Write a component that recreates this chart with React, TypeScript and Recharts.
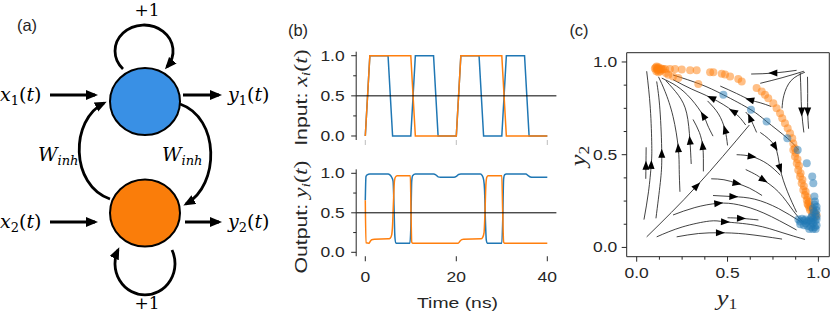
import React from 'react';
import {
  LineChart, Line, XAxis, YAxis, ReferenceLine, ComposedChart, Scatter, ReferenceArea,
} from 'recharts';

const BLUE = '#1f77b4';
const ORANGE = '#ff7f0e';
const INK = '#262626';
const SANS = '"Liberation Sans", Arial, sans-serif';
const MATH = '"Liberation Serif", serif';
const DIAG = '"DejaVu Serif", serif';
const SX = 1.25; // figure text is wider than the stock font

// (b) inputs, one sample per ns
const inputTime = [0, 1, 2, 3, 4, 5, 6, 7, 8, 9, 10, 11, 12, 13, 14, 15, 16, 17, 18, 19, 20, 21, 22, 23, 24, 25, 26, 27, 28, 29, 30, 31, 32, 33, 34, 35, 36, 37, 38, 39, 40];
const inputX1 = [0, 1, 1, 1, 1, 1, 0, 0, 0, 0, 0, 1, 1, 1, 1, 1, 0, 0, 0, 0, 0, 1, 1, 1, 1, 1, 0, 0, 0, 0, 0, 1, 1, 1, 1, 1, 0, 0, 0, 0, 0];
const inputX2 = [0, 1, 1, 1, 1, 1, 1, 1, 1, 1, 1, 0, 0, 0, 0, 0, 0, 0, 0, 0, 0, 1, 1, 1, 1, 1, 1, 1, 1, 1, 1, 0, 0, 0, 0, 0, 0, 0, 0, 0, 0];

// (b) outputs
const outTime1 = [0, 0.15, 0.4, 1, 3, 5, 5.4, 5.8, 6.1, 6.3, 6.5, 6.7, 7, 9.8, 10, 10.2, 10.4, 11, 15, 15.5, 16, 16.5, 19.5, 20, 20.5, 21, 25.3, 25.7, 26, 26.2, 26.4, 26.6, 26.8, 30, 30.2, 30.4, 30.6, 31, 35.3, 35.8, 36.3, 36.6, 40];
const outY1 = [0.66, 0.96, 0.98, 0.99, 0.99, 0.99, 0.98, 0.95, 0.9, 0.6, 0.2, 0.12, 0.115, 0.115, 0.3, 0.9, 0.97, 0.99, 0.99, 0.98, 0.955, 0.95, 0.95, 0.96, 0.985, 0.99, 0.99, 0.97, 0.92, 0.8, 0.4, 0.15, 0.115, 0.115, 0.4, 0.93, 0.98, 0.99, 0.99, 0.97, 0.952, 0.95, 0.95];
const outTime2 = [0, 0.15, 0.8, 1.1, 1.4, 2, 5, 5.5, 5.8, 6, 6.2, 6.4, 6.6, 7, 9.9, 10.05, 10.2, 10.4, 20.4, 20.8, 21.2, 21.6, 25.4, 25.8, 26.1, 26.3, 26.5, 26.7, 27, 30, 30.2, 30.4, 30.6, 40];
const outY2 = [0.66, 0.12, 0.115, 0.14, 0.16, 0.165, 0.17, 0.18, 0.22, 0.35, 0.65, 0.9, 0.95, 0.97, 0.97, 0.5, 0.13, 0.115, 0.115, 0.14, 0.16, 0.165, 0.17, 0.19, 0.25, 0.5, 0.85, 0.95, 0.97, 0.97, 0.5, 0.13, 0.115, 0.115];

const timeTicks = [0, 20, 40];
const unitTicks = [0, 0.25, 0.5, 0.75, 1];
const phaseTicks = [0, 0.125, 0.25, 0.375, 0.5, 0.625, 0.75, 0.875, 1];
const majorTicks = [0, 0.5, 1];

// (c) trajectory samples (y1, y2)
const orangePts = [
  [0.1, 0.965], [0.105, 0.97], [0.11, 0.975], [0.112, 0.96], [0.115, 0.968], [0.12, 0.972], [0.118, 0.955],
  [0.125, 0.962], [0.13, 0.95], [0.135, 0.965], [0.14, 0.958], [0.108, 0.95], [0.12, 0.945], [0.145, 0.962],
  [0.156, 0.962], [0.183, 0.962], [0.211, 0.962], [0.248, 0.959], [0.294, 0.955], [0.33, 0.955], [0.404, 0.944],
  [0.422, 0.944], [0.468, 0.937], [0.486, 0.932], [0.514, 0.922], [0.559, 0.908], [0.578, 0.895], [0.66, 0.859],
  [0.688, 0.841], [0.706, 0.823], [0.724, 0.805], [0.752, 0.778], [0.77, 0.751], [0.789, 0.724], [0.801, 0.697],
  [0.816, 0.67], [0.831, 0.643], [0.844, 0.616], [0.856, 0.589], [0.862, 0.56], [0.871, 0.535], [0.862, 0.526],
  [0.871, 0.49], [0.881, 0.454], [0.889, 0.418], [0.899, 0.382], [0.908, 0.346], [0.917, 0.31], [0.926, 0.283],
  [0.936, 0.256], [0.944, 0.229], [0.954, 0.202], [0.966, 0.184], [0.981, 0.165], [0.99, 0.175],
  [0.875, 0.51], [0.885, 0.475], [0.893, 0.44], [0.902, 0.4], [0.912, 0.365], [0.92, 0.33], [0.93, 0.3],
  [0.94, 0.27], [0.948, 0.245], [0.958, 0.22], [0.97, 0.2], [0.98, 0.19], [0.95, 0.215], [0.94, 0.235],
  [0.161, 0.941], [0.174, 0.931], [0.2, 0.922], [0.229, 0.913], [0.339, 0.881],
];
const bluePts = [
  [0.477, 0.823], [0.629, 0.742], [0.715, 0.679], [0.829, 0.589], [0.886, 0.526], [0.936, 0.454], [0.966, 0.382],
  [0.972, 0.346], [0.978, 0.274], [0.981, 0.247], [0.99, 0.22],
  [0.89, 0.15], [0.9, 0.14], [0.91, 0.155], [0.92, 0.145], [0.93, 0.15], [0.94, 0.14], [0.95, 0.145], [0.96, 0.14],
  [0.97, 0.15], [0.98, 0.14], [0.99, 0.15], [0.9, 0.125], [0.92, 0.12], [0.94, 0.115], [0.96, 0.11], [0.98, 0.11],
  [0.99, 0.12], [0.95, 0.1], [0.97, 0.1], [0.985, 0.1], [0.93, 0.13], [0.97, 0.13], [0.965, 0.17], [0.975, 0.19],
  [0.985, 0.18], [0.97, 0.21], [0.98, 0.23], [0.96, 0.16], [0.99, 0.165], [0.99, 0.2],
];

// (c) streamlines, listed in flow direction
const streamlines = [
  [[0.05, 0.37], [0.051, 0.45], [0.052, 0.54]],
  [[0.04, 0.15], [0.065, 0.3], [0.08, 0.445], [0.083, 0.55], [0.075, 0.75], [0.055, 0.95]],
  [[0.106, 0.157], [0.13, 0.35], [0.138, 0.505], [0.128, 0.742], [0.11, 0.895]],
  [[0.238, 0.3], [0.234, 0.42], [0.229, 0.535], [0.2, 0.706], [0.156, 0.841], [0.12, 0.92]],
  [[0.3, 0.45], [0.293, 0.576], [0.275, 0.724], [0.23, 0.82], [0.16, 0.9]],
  [[0.367, 0.41], [0.367, 0.48], [0.363, 0.548], [0.345, 0.62], [0.31, 0.69]],
  [[0.42, 0.6], [0.39, 0.66], [0.367, 0.71], [0.3, 0.8], [0.22, 0.87], [0.138, 0.913]],
  [[0.5, 0.55], [0.486, 0.634], [0.45, 0.72], [0.39, 0.79]],
  [[0.6, 0.66], [0.532, 0.733], [0.413, 0.805], [0.3, 0.855], [0.2, 0.905]],
  [[0.89, 0.526], [0.829, 0.589], [0.715, 0.679], [0.629, 0.742], [0.477, 0.823], [0.35, 0.88], [0.2, 0.93]],
  [[0.66, 0.62], [0.624, 0.697], [0.6, 0.73]],
  [[0.74, 0.76], [0.68, 0.78], [0.624, 0.796], [0.55, 0.83], [0.46, 0.87]],
  [[0.9, 0.94], [0.904, 0.84], [0.908, 0.733], [0.92, 0.62]],
  [[0.94, 0.92], [0.941, 0.83], [0.941, 0.733], [0.946, 0.64]],
  [[0.88, 0.955], [0.752, 0.94], [0.63, 0.935]],
  [[0.926, 0.945], [0.85, 0.9], [0.81, 0.82], [0.8, 0.75]],
  [[0.92, 0.95], [0.8, 0.915], [0.68, 0.885]],
  [[0.055, 0.057], [0.33, 0.331], [0.62, 0.66]],
  [[0.22, 0.057], [0.34, 0.075], [0.458, 0.079], [0.6, 0.072], [0.8, 0.045]],
  [[0.11, 0.057], [0.25, 0.11], [0.4, 0.142], [0.486, 0.138], [0.65, 0.12], [0.8, 0.08], [0.926, 0.043]],
  [[0.5, 0.16], [0.574, 0.157], [0.67, 0.148]],
  [[0.2, 0.175], [0.32, 0.215], [0.449, 0.238], [0.56, 0.23], [0.7, 0.185], [0.88, 0.094]],
  [[0.42, 0.28], [0.532, 0.274], [0.65, 0.26], [0.78, 0.21], [0.9, 0.14]],
  [[0.41, 0.37], [0.48, 0.365], [0.55, 0.346], [0.62, 0.32], [0.69, 0.28]],
  [[0.55, 0.5], [0.633, 0.49], [0.72, 0.45], [0.79, 0.39]],
  [[0.6, 0.42], [0.66, 0.39], [0.697, 0.364], [0.78, 0.3], [0.86, 0.2], [0.913, 0.138]],
  [[0.68, 0.62], [0.761, 0.544], [0.789, 0.427], [0.83, 0.3], [0.88, 0.19]],
];

// (c) arrow heads: x, y, direction dx, dy
const arrows = [
  [0.051, 0.44, 0, 1], [0.08, 0.445, 0.05, 1], [0.138, 0.505, 0, 1], [0.229, 0.535, -0.05, 1],
  [0.293, 0.576, -0.1, 1], [0.363, 0.548, -0.1, 1], [0.367, 0.71, -0.6, 1], [0.486, 0.634, -0.3, 1],
  [0.413, 0.805, -1, 0.45], [0.532, 0.733, -1, 0.6], [0.624, 0.697, -0.4, 1], [0.624, 0.796, -1, 0.25],
  [0.752, 0.94, -1, 0], [0.908, 0.733, 0, -1], [0.941, 0.733, 0, -1], [0.761, 0.544, 0.6, -1],
  [0.789, 0.427, 0.35, -1], [0.697, 0.364, 1, -0.6], [0.633, 0.49, 1, -0.15], [0.55, 0.346, 1, -0.2],
  [0.532, 0.274, 1, -0.05], [0.574, 0.157, 1, -0.03], [0.449, 0.238, 1, 0.1], [0.486, 0.138, 1, -0.05],
  [0.458, 0.079, 1, 0], [0.33, 0.331, 1, 1],
];

const zipT = (ts: number[], vs: number[]) => ts.map((t, i) => ({ t, v: vs[i] }));
const toXY = (pts: number[][]) => pts.map(([x, y]) => ({ x, y }));

const isMajor = (v: number) => majorTicks.some((m) => Math.abs(m - v) < 1e-9);

const yTick = (gap: number) => (props: any) => {
  const { x, y, payload } = props;
  const v = payload.value as number;
  const big = isMajor(v);
  return (
    <g>
      <line x1={x} x2={x - (big ? 5 : 3)} y1={y} y2={y} stroke={INK} strokeWidth={1} />
      {big && (
        <text transform={`translate(${x - gap},${y + 5}) scale(${SX},1)`} textAnchor="end"
          fontFamily={SANS} fontSize={14} fill={INK}>{v.toFixed(1)}</text>
      )}
    </g>
  );
};

const xTick = (dy: number, fmt: ((v: number) => string) | null, color: string) => (props: any) => {
  const { x, y, payload } = props;
  const v = payload.value as number;
  const big = fmt ? isMajor(v) || v === 20 || v === 40 : true;
  return (
    <g>
      <line x1={x} x2={x} y1={y} y2={y + (big ? 5 : 3)} stroke={color} strokeWidth={1} />
      {fmt && big && (
        <text transform={`translate(${x},${y + dy}) scale(${SX},1)`} textAnchor="middle"
          fontFamily={SANS} fontSize={14} fill={INK}>{fmt(v)}</text>
      )}
    </g>
  );
};

const Arrow = (p: any) => {
  const { cx, cy, payload } = p;
  const ang = (Math.atan2(-payload.dy, payload.dx) * 180) / Math.PI;
  return <polygon points="5,0 -4,-3.5 -4,3.5" transform={`translate(${cx},${cy}) rotate(${ang})`} fill="#000" />;
};

const dot = (color: string) => (p: any) => (
  <circle cx={p.cx} cy={p.cy} r={4} fill={color} fillOpacity={0.5} />
);

const Diagram = () => (
  <g>
    <defs>
      <marker id="head" markerUnits="userSpaceOnUse" markerWidth={13} markerHeight={11} refX={9} refY={5} orient="auto">
        <path d="M0,0 L12,5 L0,10 z" fill="#000" />
      </marker>
    </defs>
    <g fill="none" stroke="#000" strokeWidth={2.8}>
      <path d="M 123 68.9 A 29 26 0 1 1 166.9 67" markerEnd="url(#head)" />
      <path d="M 172 250 A 30 31.3 0 1 1 118 250" markerEnd="url(#head)" />
      <path d="M 110 199 C 70 185, 70 120, 104 103" markerEnd="url(#head)" />
      <path d="M 180 104 C 220 118, 220 185, 186 204" markerEnd="url(#head)" />
      <path d="M 50 95 L 95 95" markerEnd="url(#head)" />
      <path d="M 183 95 L 219 95" markerEnd="url(#head)" />
      <path d="M 50 222 L 95 222" markerEnd="url(#head)" />
      <path d="M 185 222 L 219 222" markerEnd="url(#head)" />
    </g>
    <ellipse cx={145} cy={101.5} rx={35} ry={33.5} fill="#3990e5" stroke="#000" strokeWidth={2} />
    <ellipse cx={145} cy={213} rx={35} ry={33.5} fill="#fa7d0a" stroke="#000" strokeWidth={2} />
    <g fontFamily={DIAG} fontSize={19} fill="#000">
      <text x={0} y={101}><tspan fontStyle="italic">x</tspan><tspan fontSize={13} dy={4}>1</tspan><tspan dy={-4}>(</tspan><tspan fontStyle="italic">t</tspan>)</text>
      <text x={228} y={101}><tspan fontStyle="italic">y</tspan><tspan fontSize={13} dy={4}>1</tspan><tspan dy={-4}>(</tspan><tspan fontStyle="italic">t</tspan>)</text>
      <text x={0} y={228}><tspan fontStyle="italic">x</tspan><tspan fontSize={13} dy={4}>2</tspan><tspan dy={-4}>(</tspan><tspan fontStyle="italic">t</tspan>)</text>
      <text x={228} y={228}><tspan fontStyle="italic">y</tspan><tspan fontSize={13} dy={4}>2</tspan><tspan dy={-4}>(</tspan><tspan fontStyle="italic">t</tspan>)</text>
      <text x={38} y={161}><tspan fontStyle="italic">W</tspan><tspan fontSize={13} fontStyle="italic" dy={4}>inh</tspan></text>
      <text x={162} y={161}><tspan fontStyle="italic">W</tspan><tspan fontSize={13} fontStyle="italic" dy={4}>inh</tspan></text>
      <text x={147} y={16} fontSize={17} textAnchor="middle">+1</text>
      <text x={147} y={309} fontSize={17} textAnchor="middle">+1</text>
    </g>
  </g>
);

const Labels = () => (
  <g fill={INK}>
    <text x={27} y={31} textAnchor="middle" fontFamily={SANS} fontSize={16.5}>(a)</text>
    <text x={298} y={36} textAnchor="middle" fontFamily={SANS} fontSize={16.5}>(b)</text>
    <text x={579} y={36} textAnchor="middle" fontFamily={SANS} fontSize={16.5}>(c)</text>
    <text transform={`translate(307,97.5) rotate(-90) scale(${SX},1)`} textAnchor="middle" fontSize={17}>
      <tspan fontFamily={SANS}>{'Input: '}</tspan>
      <tspan fontFamily={MATH} fontStyle="italic" fontSize={19}>x</tspan>
      <tspan fontFamily={MATH} fontStyle="italic" fontSize={13} dy={3}>i</tspan>
      <tspan fontFamily={MATH} fontSize={19} dy={-3}>(</tspan>
      <tspan fontFamily={MATH} fontStyle="italic" fontSize={19}>t</tspan>
      <tspan fontFamily={MATH} fontSize={19}>)</tspan>
    </text>
    <text transform={`translate(307,217) rotate(-90) scale(${SX},1)`} textAnchor="middle" fontSize={17}>
      <tspan fontFamily={SANS}>{'Output: '}</tspan>
      <tspan fontFamily={MATH} fontStyle="italic" fontSize={19}>y</tspan>
      <tspan fontFamily={MATH} fontStyle="italic" fontSize={13} dy={3}>i</tspan>
      <tspan fontFamily={MATH} fontSize={19} dy={-3}>(</tspan>
      <tspan fontFamily={MATH} fontStyle="italic" fontSize={19}>t</tspan>
      <tspan fontFamily={MATH} fontSize={19}>)</tspan>
    </text>
    <text transform={`translate(457.5,308.3) scale(${SX},1)`} textAnchor="middle" fontFamily={SANS} fontSize={15.5}>Time (ns)</text>
    <text transform={`translate(585,156) rotate(-90) scale(${SX},1)`} textAnchor="middle" fontFamily={MATH} fontSize={21}>
      <tspan fontStyle="italic">y</tspan><tspan fontSize={14} dy={4}>2</tspan>
    </text>
    <text transform={`translate(727,305) scale(${SX},1)`} textAnchor="middle" fontFamily={MATH} fontSize={21}>
      <tspan fontStyle="italic">y</tspan><tspan fontSize={14} dy={4}>1</tspan>
    </text>
  </g>
);

export default function App() {
  return (
    <div style={{ position: 'absolute', left: 0, top: 0, width: 830, height: 317, background: '#fff' }}>
      <div style={{ position: 'absolute', left: 290, top: 40 }}>
        <LineChart width={280} height={115} margin={{ top: 11.7, right: 13.6, bottom: 5, left: 6.2 }}>
          <XAxis type="number" dataKey="t" domain={[-2, 42]} ticks={timeTicks} allowDataOverflow interval={0}
            axisLine={false} tickLine={false} tickSize={0} tickMargin={0} height={10}
            tick={xTick(0, null, '#bdbdbd')} />
          <YAxis type="number" domain={[-0.05, 1.05]} ticks={unitTicks} allowDataOverflow interval={0}
            axisLine={{ stroke: INK }} tickLine={false} tickSize={0} tickMargin={0} width={60}
            tick={yTick(11.5)} />
          <Line data={zipT(inputTime, inputX1)} dataKey="v" type="linear" stroke={BLUE} strokeWidth={1.5} dot={false} isAnimationActive={false} />
          <Line data={zipT(inputTime, inputX2)} dataKey="v" type="linear" stroke={ORANGE} strokeWidth={1.5} dot={false} isAnimationActive={false} />
          <ReferenceLine y={0.5} stroke="#000" strokeWidth={1} />
        </LineChart>
      </div>
      <div style={{ position: 'absolute', left: 290, top: 160 }}>
        <LineChart width={280} height={157} margin={{ top: 9.35, right: 13.6, bottom: 30.75, left: 6.2 }}>
          <XAxis type="number" dataKey="t" domain={[-2, 42]} ticks={timeTicks} allowDataOverflow interval={0}
            axisLine={false} tickLine={false} tickSize={0} tickMargin={0} height={30}
            tick={xTick(25.4, (v) => String(v), INK)} />
          <YAxis type="number" domain={[-0.05, 1.05]} ticks={unitTicks} allowDataOverflow interval={0}
            axisLine={{ stroke: INK }} tickLine={false} tickSize={0} tickMargin={0} width={60}
            tick={yTick(11.5)} />
          <Line data={zipT(outTime1, outY1)} dataKey="v" type="monotone" stroke={BLUE} strokeWidth={1.5} dot={false} isAnimationActive={false} />
          <Line data={zipT(outTime2, outY2)} dataKey="v" type="monotone" stroke={ORANGE} strokeWidth={1.5} dot={false} isAnimationActive={false} />
          <ReferenceLine y={0.5} stroke="#000" strokeWidth={1} />
        </LineChart>
      </div>
      <div style={{ position: 'absolute', left: 560, top: 40 }}>
        <ComposedChart width={270} height={277} margin={{ top: 12.7, right: 0.7, bottom: 30.3, left: 6.7 }}>
          <XAxis type="number" dataKey="x" domain={[-0.055, 1.06]} ticks={phaseTicks} allowDataOverflow interval={0}
            axisLine={false} tickLine={false} tickSize={0} tickMargin={0} height={30}
            tick={xTick(21.6, (v) => v.toFixed(1), INK)} />
          <YAxis type="number" dataKey="y" domain={[-0.05, 1.05]} ticks={phaseTicks} allowDataOverflow interval={0}
            axisLine={false} tickLine={false} tickSize={0} tickMargin={0} width={60}
            tick={yTick(9.4)} />
          {streamlines.map((s, i) => (
            <Line key={i} data={toXY(s)} dataKey="y" type="natural" stroke="#111" strokeWidth={0.8}
              dot={false} isAnimationActive={false} />
          ))}
          <Scatter data={arrows.map(([x, y, dx, dy]) => ({ x, y, dx, dy }))} shape={Arrow} isAnimationActive={false} />
          <Scatter data={toXY(orangePts)} shape={dot(ORANGE)} isAnimationActive={false} />
          <Scatter data={toXY(bluePts)} shape={dot(BLUE)} isAnimationActive={false} />
          <ReferenceArea x1={-0.055} x2={1.06} y1={-0.05} y2={1.05} fill="none" stroke={INK} strokeWidth={1} ifOverflow="visible" />
        </ComposedChart>
      </div>
      <svg width={830} height={317} style={{ position: 'absolute', left: 0, top: 0, pointerEvents: 'none' }}>
        <Diagram />
        <Labels />
      </svg>
    </div>
  );
}
